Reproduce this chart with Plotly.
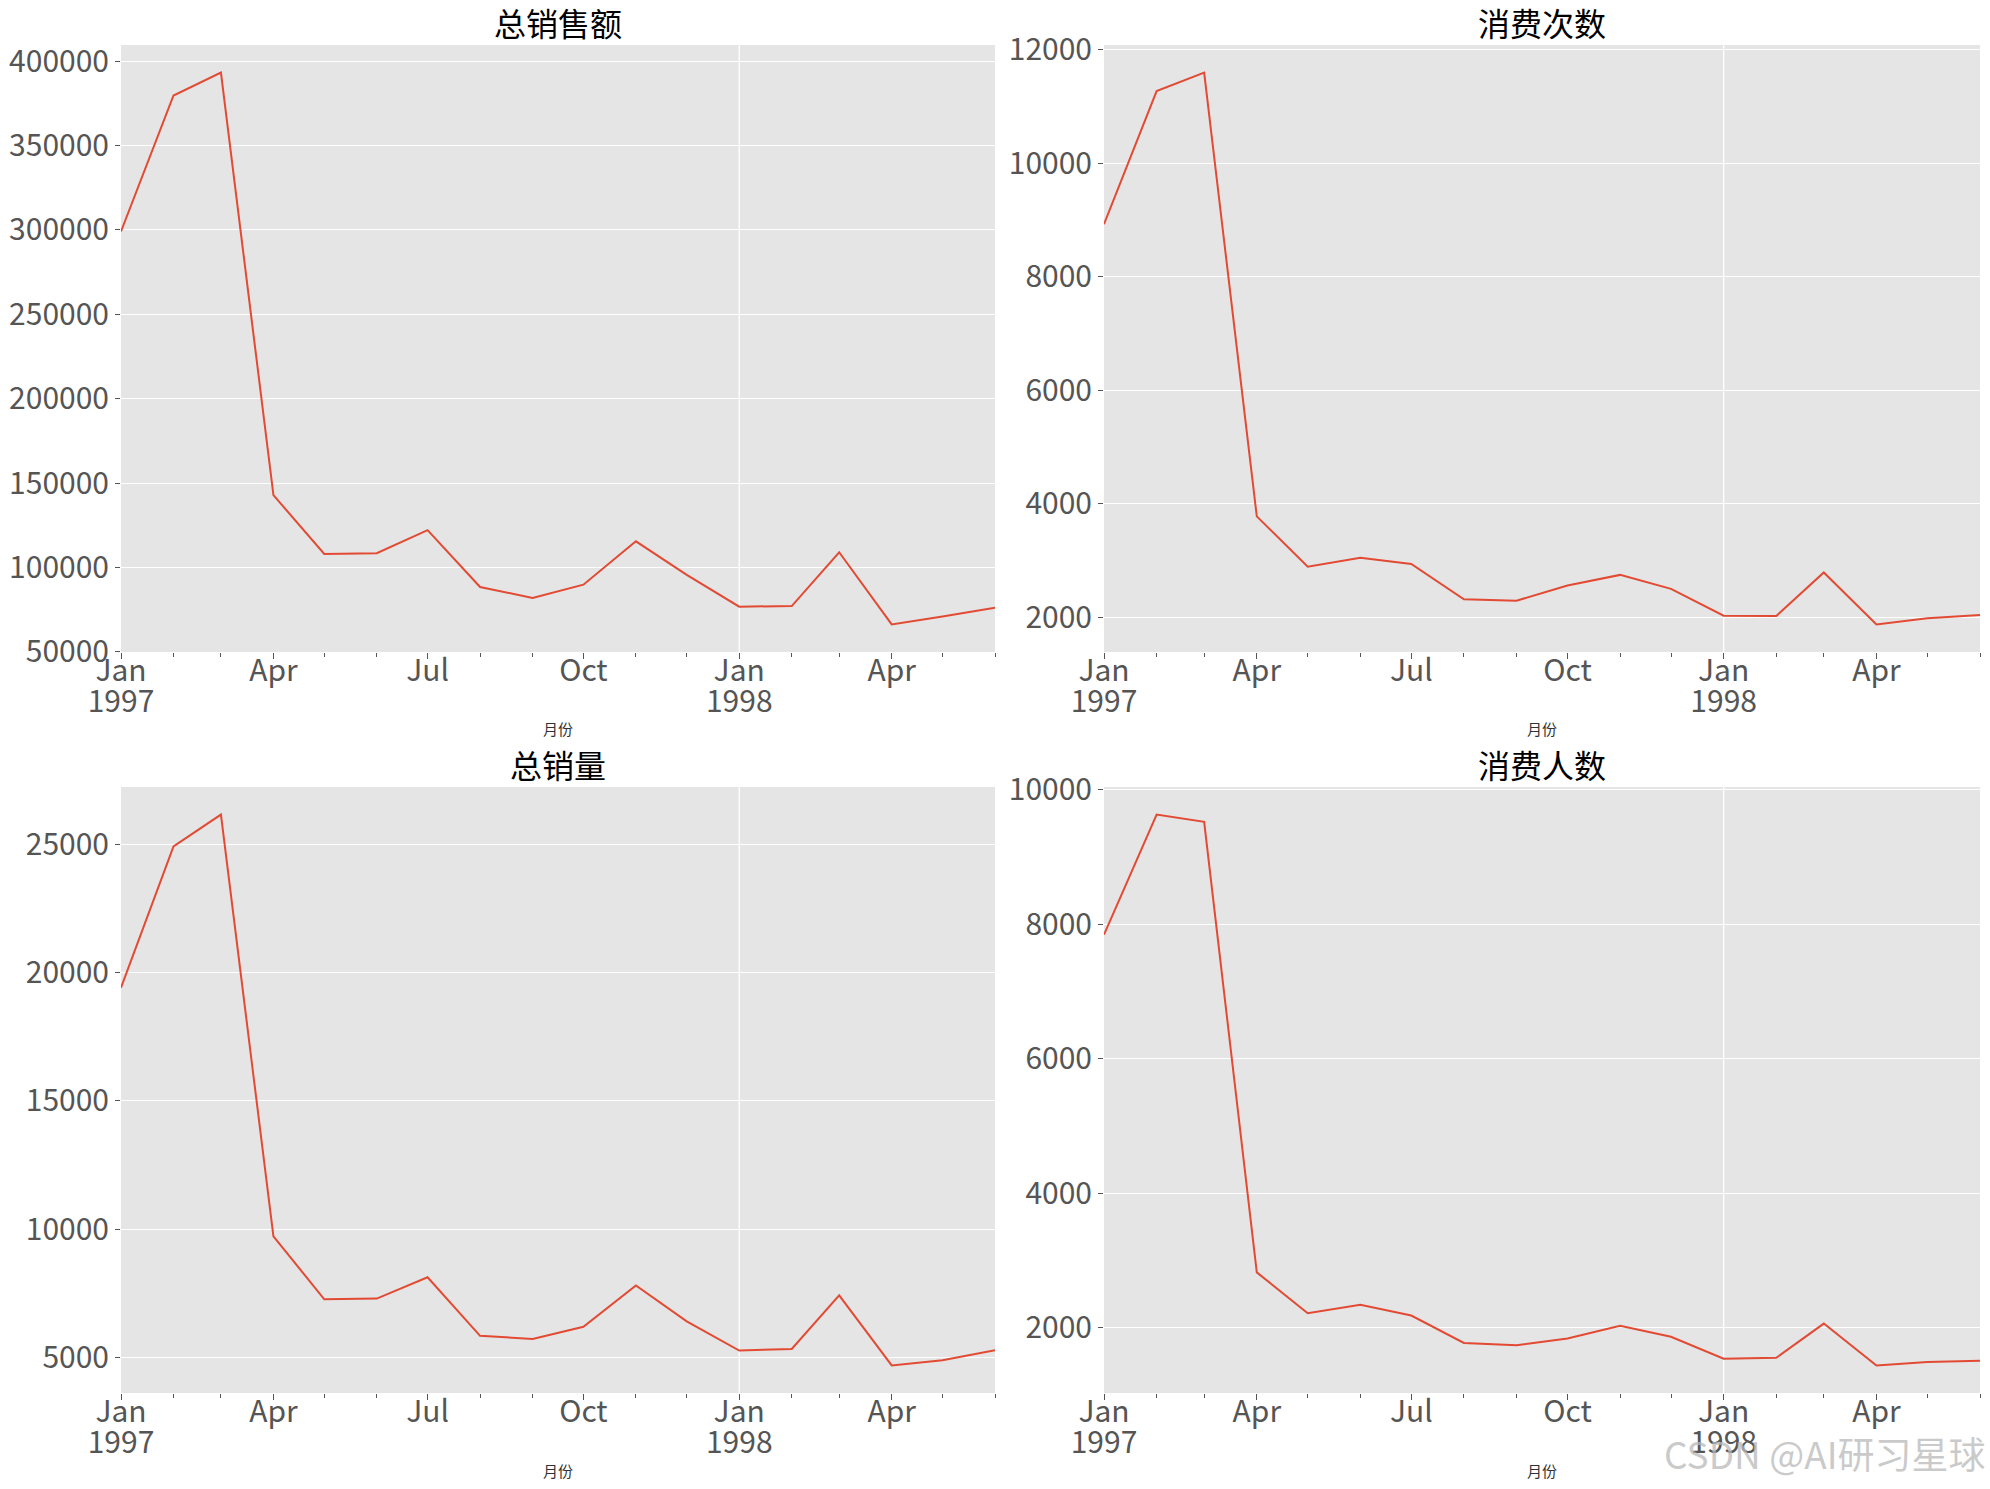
import pandas as pd
import plotly.graph_objects as go
from plotly.subplots import make_subplots

# ---------------- data ----------------
months = ["1997-01", "1997-02", "1997-03", "1997-04", "1997-05", "1997-06",
          "1997-07", "1997-08", "1997-09", "1997-10", "1997-11", "1997-12",
          "1998-01", "1998-02", "1998-03", "1998-04", "1998-05", "1998-06"]

sales_amount = [299060, 379590, 393155, 142824, 107933, 108396,
                122079, 88368, 81949, 89781, 115449, 95577,
                76757, 77097, 108970, 66232, 70928, 76109]
order_counts = [8928, 11272, 11598, 3781, 2895, 3054,
                2942, 2320, 2296, 2562, 2750, 2504,
                2032, 2026, 2793, 1878, 1985, 2043]
product_counts = [19416, 24921, 26159, 9729, 7275, 7301,
                  8131, 5851, 5729, 6203, 7812, 6418,
                  5278, 5340, 7431, 4697, 4903, 5287]
user_counts = [7846, 9633, 9524, 2822, 2214, 2339,
               2180, 1772, 1739, 1839, 2028, 1864,
               1537, 1551, 2060, 1437, 1488, 1506]

titles = ["总销售额", "消费次数", "总销量", "消费人数"]
x_title = "月份"
x_tick_months = ["1997-01", "1997-04", "1997-07", "1997-10", "1998-01", "1998-04"]
x_tick_labels = ["Jan", "Apr", "Jul", "Oct", "Jan", "Apr"]
year_tick_months = ["1997-01", "1998-01"]
year_tick_labels = ["1997", "1998"]
y_dticks = [50000, 2000, 5000, 2000]
watermark = "CSDN @AI研习星球"

# ---------------- layout constants ----------------
W, H = 1990, 1489
FONT = "Noto Sans CJK SC"
TICK_COLOR = "#555555"
LINE_COLOR = "#E24A33"
BG = "#E5E5E5"
TICK_SIZE = 30

col_px = [(121, 995), (1104, 1980)]
row_px = [(45, 652), (787, 1393)]

dates = pd.to_datetime(months)
series = [sales_amount, order_counts, product_counts, user_counts]

fig = make_subplots(rows=2, cols=2)

annotations = []
shapes = []
for i, vals in enumerate(series):
    r, c = divmod(i, 2)
    axn = "" if i == 0 else str(i + 1)
    yearax = str(i + 5)
    fig.add_trace(
        go.Scatter(x=dates, y=vals, mode="lines",
                   line=dict(color=LINE_COLOR, width=2), showlegend=False),
        row=r + 1, col=c + 1)
    # invisible copy so the overlaid "year" axis gets drawn
    fig.add_trace(
        go.Scatter(x=dates, y=vals, mode="lines", opacity=0,
                   line=dict(color=LINE_COLOR, width=0), showlegend=False,
                   hoverinfo="skip", xaxis=f"x{yearax}", yaxis=f"y{axn}"))
    xd = [col_px[c][0] / W, col_px[c][1] / W]
    yd = [1 - row_px[r][1] / H, 1 - row_px[r][0] / H]
    lo, hi = min(vals), max(vals)
    pad = (hi - lo) * 0.05
    fig.update_layout(**{
        f"xaxis{axn}": dict(
            domain=xd, type="date",
            range=[dates[0], dates[-1]],
            tickmode="array",
            tickvals=pd.to_datetime(x_tick_months),
            ticktext=x_tick_labels,
            ticks="outside", ticklen=6, tickwidth=1, tickcolor=TICK_COLOR,
            ticklabelstandoff=-14,
            minor=dict(ticks="outside", ticklen=4, tickwidth=1,
                       tickcolor=TICK_COLOR, dtick="M1",
                       tick0=dates[0], showgrid=False),
            showgrid=False, zeroline=False, showline=False,
            tickfont=dict(family=FONT, size=TICK_SIZE, color=TICK_COLOR),
            automargin=False,
        ),
        # second row of x labels (years)
        f"xaxis{yearax}": dict(
            domain=xd, type="date", overlaying=f"x{axn}", anchor=f"y{axn}",
            side="bottom",
            range=[dates[0], dates[-1]],
            tickmode="array",
            tickvals=pd.to_datetime(year_tick_months),
            ticktext=year_tick_labels,
            ticks="", ticklabelstandoff=29,
            showgrid=False, zeroline=False, showline=False,
            tickfont=dict(family=FONT, size=TICK_SIZE, color=TICK_COLOR),
            automargin=False,
        ),
        f"yaxis{axn}": dict(
            domain=yd,
            range=[lo - pad, hi + pad],
            dtick=y_dticks[i], tick0=0, tickformat="d",
            ticks="outside", ticklen=5, tickwidth=1, tickcolor=TICK_COLOR,
            showgrid=True, gridcolor="white", gridwidth=1.3,
            zeroline=False, showline=False,
            tickfont=dict(family=FONT, size=TICK_SIZE, color=TICK_COLOR),
            automargin=False,
        ),
    })
    # subplot title
    annotations.append(dict(
        text=titles[i], x=(xd[0] + xd[1]) / 2, y=yd[1],
        xref="paper", yref="paper", xanchor="center", yanchor="bottom",
        showarrow=False, yshift=-2,
        font=dict(family=FONT, size=32, color="black")))
    # x axis title
    annotations.append(dict(
        text=x_title, x=(xd[0] + xd[1]) / 2, y=yd[0],
        xref="paper", yref="paper", xanchor="center", yanchor="middle",
        showarrow=False, yshift=-77,
        font=dict(family=FONT, size=15, color="#333333")))
    # vertical grid line at year boundaries (major ticks)
    for m, d in zip(months[1:], dates[1:]):
        if m.endswith("-01"):
            shapes.append(dict(
                type="line", xref=f"x{axn}", yref=f"y{axn} domain",
                x0=d, x1=d, y0=0, y1=1,
                line=dict(color="white", width=1.3), layer="below"))

annotations.append(dict(
    text=watermark, x=0.999, y=1 - 1453 / H, xref="paper", yref="paper",
    xanchor="right", yanchor="middle", showarrow=False,
    font=dict(family=FONT, size=37, color="rgba(185,185,185,0.75)")))

fig.update_layout(
    width=W, height=H,
    template="none",
    margin=dict(l=0, r=0, t=0, b=0, autoexpand=False),
    paper_bgcolor="white",
    plot_bgcolor=BG,
    annotations=annotations,
    shapes=shapes,
    font=dict(family=FONT),
)

fig.write_html("out.html",
               config={"displayModeBar": False},
               post_script="document.body.style.margin='0px';"
                           "document.body.style.overflow='hidden';")
